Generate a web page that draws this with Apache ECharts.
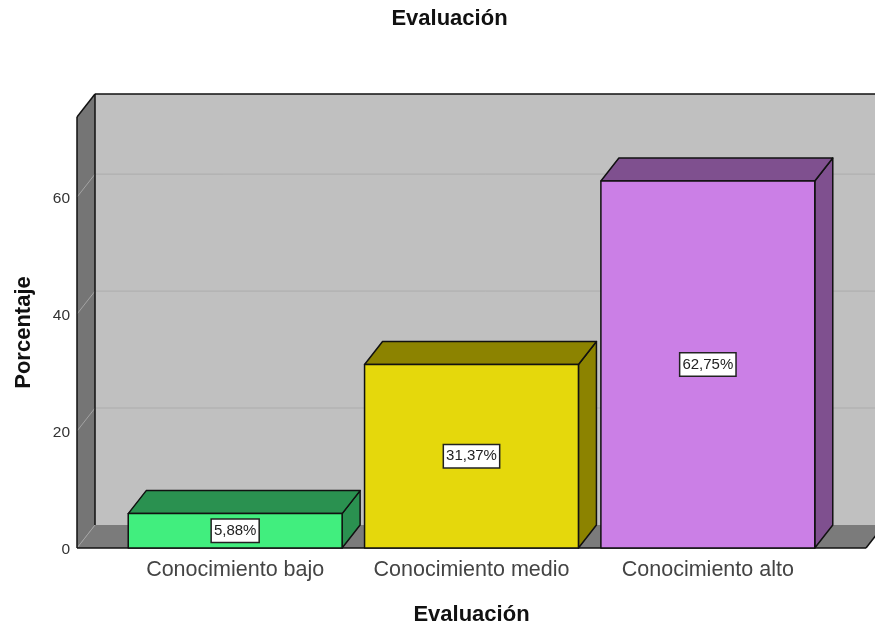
<!DOCTYPE html>
<html><head><meta charset="utf-8">
<style>html,body{margin:0;padding:0;background:#fff}#c{width:875px;height:630px}</style>
<script src="https://cdn.jsdelivr.net/npm/echarts@6/dist/echarts.min.js"></script>
</head><body><div id="c"></div>
<script>
const titleText = 'Evaluación';
const xName = 'Evaluación';
const yName = 'Porcentaje';
const categories = ['Conocimiento bajo', 'Conocimiento medio', 'Conocimiento alto'];
const percentages = [5.88, 31.37, 62.75];
const faceColors = ['#41ee7e', '#e5d80c', '#cb7fe6'];
const shadeColors = ['#2a9150', '#8c8300', '#7f508f'];
const gridValues = [20, 40, 60];
const yMax = 73.7;

const DX = 18, DY = -23, LEFT_PAD = 40, RIGHT_PAD = 40, BAR_RATIO = 0.905;

function poly(points, style){ return {type:'polygon', shape:{points}, style}; }
function seg(a, b, stroke, lineWidth){
  return {type:'line', shape:{x1:a[0],y1:a[1],x2:b[0],y2:b[1]}, style:{stroke, lineWidth, fill:null}};
}
function frame(api){
  const band = api.size([1,0])[0];
  const o = api.coord([0,0]), t = api.coord([0,yMax]), e = api.coord([categories.length-1,0]);
  return {l:o[0]-band/2-LEFT_PAD, r:e[0]+band/2+RIGHT_PAD, b:o[1], t:t[1]};
}
function renderRoom(params, api){
  const f = frame(api);
  const children = [
    poly([[f.l+DX,f.t+DY],[f.r+DX,f.t+DY],[f.r+DX,f.b+DY],[f.l+DX,f.b+DY]], {fill:'#c0c0c0'}),
    poly([[f.l,f.b],[f.l+DX,f.b+DY],[f.r+DX,f.b+DY],[f.r,f.b]], {fill:'#7b7b7b'}),
    poly([[f.l,f.t],[f.l+DX,f.t+DY],[f.l+DX,f.b+DY],[f.l,f.b]], {fill:'#757575'})
  ];
  gridValues.forEach(v=>{
    const y = api.coord([0,v])[1];
    children.push(seg([f.l,y],[f.l+DX,y+DY],'#a3a3a3',1));
    children.push(seg([f.l+DX,y+DY],[f.r+DX,y+DY],'#acacac',1));
  });
  children.push(seg([f.l,f.b],[f.l+DX,f.b+DY],'#a3a3a3',1));
  children.push(seg([f.l,f.t],[f.l,f.b],'#111',1.5));
  children.push(seg([f.l,f.t],[f.l+DX,f.t+DY],'#111',1.5));
  children.push(seg([f.l+DX,f.t+DY],[f.l+DX,f.b+DY],'#111',1.5));
  children.push(seg([f.l+DX,f.t+DY],[f.r+DX,f.t+DY],'#111',1.5));
  children.push(seg([f.l,f.b],[f.r,f.b],'#111',1.5));
  children.push(seg([f.r,f.b],[f.r+DX,f.b+DY],'#111',1.5));
  return {type:'group', children};
}
function renderBar(params, api){
  const i = api.value(0), v = api.value(1);
  const band = api.size([1,0])[0], w = band*BAR_RATIO;
  const top = api.coord([i,v]), base = api.coord([i,0]);
  const l = top[0]-w/2, r = top[0]+w/2, t = top[1], b = base[1];
  const edge = {stroke:'#111', lineWidth:1.5, lineJoin:'round'};
  return {type:'group', children:[
    poly([[r,t],[r+DX,t+DY],[r+DX,b+DY],[r,b]], {fill:shadeColors[i], ...edge}),
    poly([[l,t],[l+DX,t+DY],[r+DX,t+DY],[r,t]], {fill:shadeColors[i], ...edge}),
    poly([[l,t],[r,t],[r,b],[l,b]], {fill:faceColors[i], ...edge}),
    {type:'text', x:top[0], y:(t+b)/2, style:{
      text:v.toFixed(2).replace('.',',')+'%', x:0, y:0, align:'center', verticalAlign:'middle',
      fontFamily:'Liberation Sans', fontSize:15, fill:'#222',
      backgroundColor:'#fff', borderColor:'#222', borderWidth:1.5, padding:[4,2,3,2]
    }}
  ]};
}
const boldText = {fontFamily:'Liberation Sans', fontWeight:'bold', fontSize:22, color:'#111'};
const chart = echarts.init(document.getElementById('c'), null, {renderer:'canvas'});
chart.setOption({
  animation:false,
  backgroundColor:'#fff',
  title:{text:titleText, left:444.5, top:3, textAlign:'center', textStyle:boldText},
  grid:{left:117, width:709, top:117, height:431, outerBoundsMode:'none'},
  xAxis:{type:'category', data:categories, name:xName, nameLocation:'middle', nameGap:56,
    nameTextStyle:boldText,
    axisLine:{show:false}, axisTick:{show:false},
    axisLabel:{fontFamily:'Liberation Sans', fontSize:21.5, color:'#444', margin:11, interval:0}},
  yAxis:{type:'value', min:0, max:yMax, interval:20, offset:40, name:yName, nameLocation:'middle', nameGap:42,
    nameTextStyle:boldText,
    axisLine:{show:false}, axisTick:{show:false}, splitLine:{show:false},
    axisLabel:{margin:7, showMaxLabel:false, formatter:'{t|{value}}',
      rich:{t:{fontFamily:'Liberation Sans', fontSize:15.5, color:'#333', padding:[4,0,0,0]}}}},
  series:[
    {type:'custom', renderItem:renderRoom, data:[[0,0]], silent:true, z:1},
    {type:'custom', renderItem:renderBar, data:percentages.map((v,i)=>[i,v]), encode:{x:0,y:1}, silent:true, z:2}
  ]
});
</script></body></html>
